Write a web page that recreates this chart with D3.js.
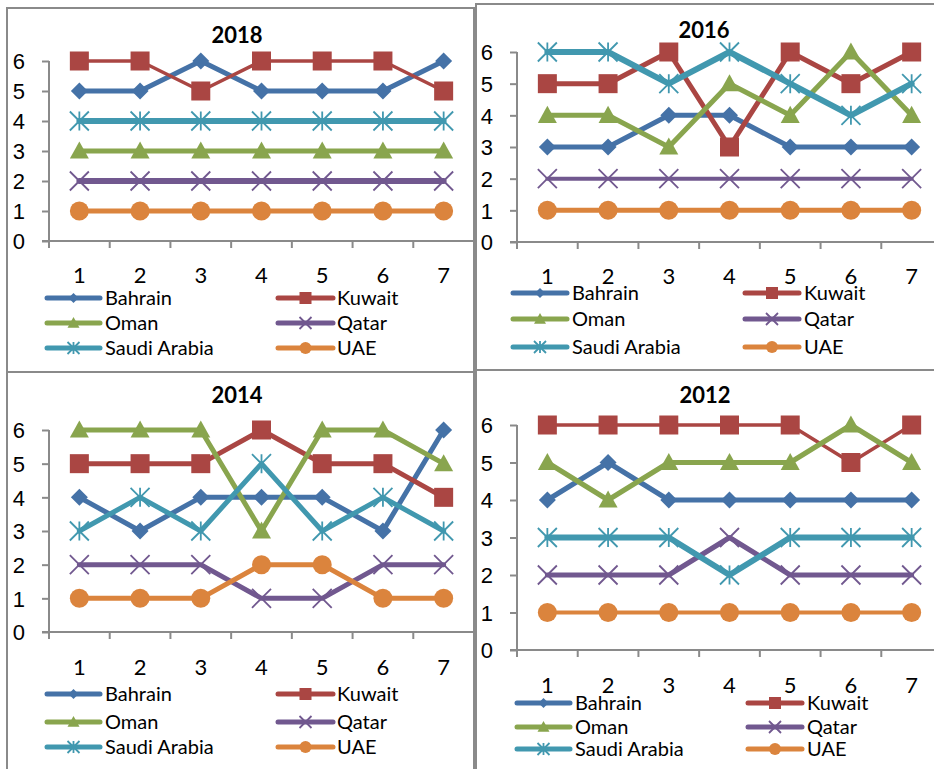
<!DOCTYPE html>
<html>
<head>
<meta charset="utf-8">
<script src="https://cdn.jsdelivr.net/npm/d3@7"></script>
<style>
  html, body { margin: 0; padding: 0; background: #fff; }
  svg { display: block; font-family: Lato, "Open Sans", sans-serif; }
</style>
</head>
<body>
<svg id="chart" width="934" height="769"></svg>
<script>
// Country ranks (1 = lowest, 6 = highest) across seven indicators, four survey years
const countries = ["Bahrain", "Kuwait", "Oman", "Qatar", "Saudi Arabia", "UAE"];
const indicators = ["1", "2", "3", "4", "5", "6", "7"];
const rankTicks = [0, 1, 2, 3, 4, 5, 6];

const ranks2018 = [
  [5, 5, 6, 5, 5, 5, 6],   // Bahrain
  [6, 6, 5, 6, 6, 6, 5],   // Kuwait
  [3, 3, 3, 3, 3, 3, 3],   // Oman
  [2, 2, 2, 2, 2, 2, 2],   // Qatar
  [4, 4, 4, 4, 4, 4, 4],   // Saudi Arabia
  [1, 1, 1, 1, 1, 1, 1]    // UAE
];
const ranks2016 = [
  [3, 3, 4, 4, 3, 3, 3],
  [5, 5, 6, 3, 6, 5, 6],
  [4, 4, 3, 5, 4, 6, 4],
  [2, 2, 2, 2, 2, 2, 2],
  [6, 6, 5, 6, 5, 4, 5],
  [1, 1, 1, 1, 1, 1, 1]
];
const ranks2014 = [
  [4, 3, 4, 4, 4, 3, 6],
  [5, 5, 5, 6, 5, 5, 4],
  [6, 6, 6, 3, 6, 6, 5],
  [2, 2, 2, 1, 1, 2, 2],
  [3, 4, 3, 5, 3, 4, 3],
  [1, 1, 1, 2, 2, 1, 1]
];
const ranks2012 = [
  [4, 5, 4, 4, 4, 4, 4],
  [6, 6, 6, 6, 6, 5, 6],
  [5, 4, 5, 5, 5, 6, 5],
  [2, 2, 2, 3, 2, 2, 2],
  [3, 3, 3, 2, 3, 3, 3],
  [1, 1, 1, 1, 1, 1, 1]
];

const colors = ["#4572A7", "#AA4643", "#89A54E", "#71588F", "#4198AF", "#DB843D"];
const markers = ["diamond", "square", "triangle", "cross", "asterisk", "circle"];

// Layout of the four panels (frame, plot area, title, legend rows, stroke widths)
const panels = [
  { title: "2018", data: ranks2018, frame: [7, 8, 474, 372], widths: [5, 3.5, 5, 6, 6, 5],
    axisX: 49, right: 474, yTop: 61, yBot: 241, titleX: 237, titleY: 43, xLabY: 283,
    legRows: [298, 323, 348], legCols: [[47, 100, 105], [278, 333, 337]] },
  { title: "2016", data: ranks2016, frame: [476, 4, 942, 370], widths: [5, 5, 5, 4, 6, 5],
    axisX: 517, right: 942, yTop: 52, yBot: 242, titleX: 704, titleY: 38, xLabY: 284,
    legRows: [293, 319, 347], legCols: [[513, 567, 572], [745, 799, 804]] },
  { title: "2014", data: ranks2014, frame: [7, 372, 474, 790], widths: [5, 5, 5, 5, 5, 5],
    axisX: 49, right: 474, yTop: 430, yBot: 632, titleX: 237, titleY: 403, xLabY: 675,
    legRows: [694, 722, 747], legCols: [[47, 100, 105], [278, 333, 337]] },
  { title: "2012", data: ranks2012, frame: [476, 370, 942, 790], widths: [5, 3.5, 5, 5, 6, 4],
    axisX: 517, right: 942, yTop: 425, yBot: 650, titleX: 705, titleY: 403, xLabY: 693,
    legRows: [703, 727, 749], legCols: [[517, 570, 575], [748, 802, 807]] }
];

const svg = d3.select("#chart");
const axisColor = "#8a8a8a";

function drawMarker(g, type, x, y, color, s) {
  // s = nominal marker size in px
  const h = s / 2;
  if (type === "diamond") {
    g.append("path").attr("d", `M${x},${y - h}L${x + h},${y}L${x},${y + h}L${x - h},${y}Z`).attr("fill", color);
  } else if (type === "square") {
    g.append("rect").attr("x", x - h).attr("y", y - h).attr("width", s).attr("height", s).attr("fill", color);
  } else if (type === "triangle") {
    g.append("path").attr("d", `M${x},${y - h}L${x + h},${y + h * 0.8}L${x - h},${y + h * 0.8}Z`).attr("fill", color);
  } else if (type === "cross") {
    g.append("path").attr("d", `M${x - h},${y - h}L${x + h},${y + h}M${x - h},${y + h}L${x + h},${y - h}`)
      .attr("stroke", color).attr("stroke-width", 1.8).attr("fill", "none");
  } else if (type === "asterisk") {
    g.append("path").attr("d", `M${x - h},${y - h}L${x + h},${y + h}M${x - h},${y + h}L${x + h},${y - h}M${x},${y - h}L${x},${y + h}`)
      .attr("stroke", color).attr("stroke-width", 1.8).attr("fill", "none");
  } else if (type === "circle") {
    g.append("circle").attr("cx", x).attr("cy", y).attr("r", h).attr("fill", color);
  }
}

panels.forEach(p => {
  const g = svg.append("g");

  // Frame
  const [fx0, fy0, fx1, fy1] = p.frame;
  g.append("rect").attr("x", fx0).attr("y", fy0).attr("width", fx1 - fx0).attr("height", fy1 - fy0)
    .attr("fill", "none").attr("stroke", axisColor).attr("stroke-width", 2);

  const x = d3.scaleBand().domain(indicators).range([p.axisX, p.right]);
  const y = d3.scaleLinear().domain([0, 6]).range([p.yBot, p.yTop]);

  // Y axis
  const yAxis = d3.axisLeft(y).tickValues(rankTicks).tickFormat(d3.format("d")).tickSize(7).tickPadding(17);
  const ya = g.append("g").attr("transform", `translate(${p.axisX},0)`).call(yAxis);
  ya.select(".domain").attr("stroke", axisColor).attr("stroke-width", 2).attr("d", `M0,${p.yBot}V${p.yTop}`);
  ya.selectAll(".tick line").attr("stroke", axisColor).attr("stroke-width", 2);
  ya.selectAll(".tick text").attr("fill", "#000").style("font-size", "22px").attr("dy", "0.36em");

  // X axis: ticks at band boundaries, labels at band centres
  g.append("line").attr("x1", p.axisX - 7).attr("x2", p.right).attr("y1", p.yBot).attr("y2", p.yBot)
    .attr("stroke", axisColor).attr("stroke-width", 2);
  indicators.forEach(d => {
    g.append("line").attr("x1", x(d)).attr("x2", x(d)).attr("y1", p.yBot).attr("y2", p.yBot + 7)
      .attr("stroke", axisColor).attr("stroke-width", 2);
    g.append("text").attr("x", x(d) + x.bandwidth() / 2).attr("y", p.xLabY)
      .attr("text-anchor", "middle").style("font-size", "22px").text(d);
  });

  // Title
  g.append("text").attr("x", p.titleX).attr("y", p.titleY).attr("text-anchor", "middle")
    .style("font-size", "22px").style("font-weight", "bold").text(p.title);

  // Series
  const line = d3.line().x((d, i) => x(indicators[i]) + x.bandwidth() / 2).y(d => y(d));
  p.data.forEach((vals, si) => {
    const sg = g.append("g");
    sg.append("path").attr("d", line(vals)).attr("fill", "none").attr("stroke", colors[si])
      .attr("stroke-width", p.widths[si]).attr("stroke-linejoin", "round").attr("stroke-linecap", "round");
    const size = markers[si] === "diamond" ? 17 : 19;
    vals.forEach((v, i) => drawMarker(sg, markers[si], x(indicators[i]) + x.bandwidth() / 2, y(v), colors[si], size));
  });

  // Legend: two columns, three rows
  countries.forEach((c, ci) => {
    const row = p.legRows[Math.floor(ci / 2)];
    const [lx0, lx1, tx] = p.legCols[ci % 2];
    g.append("line").attr("x1", lx0).attr("x2", lx1).attr("y1", row).attr("y2", row)
      .attr("stroke", colors[ci]).attr("stroke-width", 5).attr("stroke-linecap", "round");
    const msize = markers[ci] === "diamond" ? 10 : 12;
    drawMarker(g, markers[ci], (lx0 + lx1) / 2, row, colors[ci], msize);
    g.append("text").attr("x", tx).attr("y", row + 7).style("font-size", "20px").text(c);
  });
});
</script>
</body>
</html>
